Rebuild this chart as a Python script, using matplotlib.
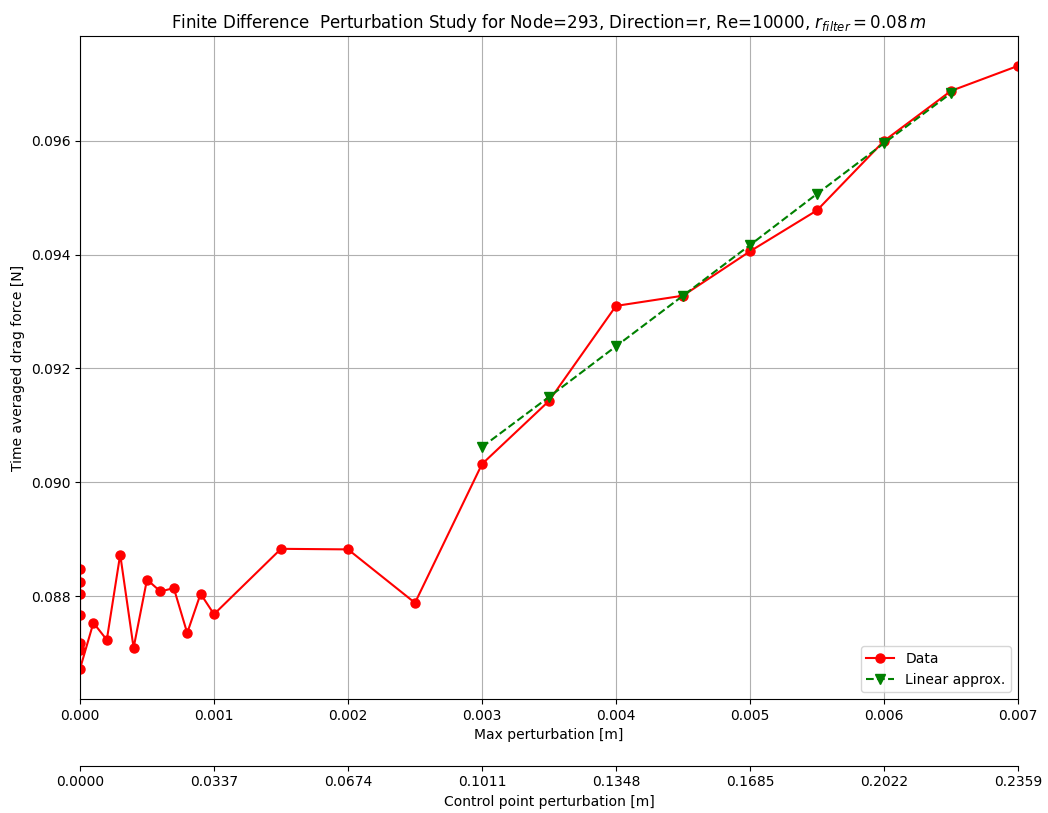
import matplotlib
matplotlib.use("Agg")
import matplotlib.pyplot as plt
import numpy as np

# Data series
max_pert = [1e-9, 2e-9, 5e-9, 1e-8, 2e-8, 5e-8, 1e-7,
            0.0001, 0.0002, 0.0003, 0.0004, 0.0005, 0.0006, 0.0007, 0.0008, 0.0009, 0.0010,
            0.0015, 0.0020, 0.0025, 0.0030, 0.0035, 0.0040, 0.0045, 0.0050, 0.0055,
            0.0060, 0.0065, 0.0070]
drag = [0.08847, 0.08824, 0.08804, 0.08766, 0.08718, 0.08705, 0.08672,
        0.08753, 0.08723, 0.08873, 0.08709, 0.08829, 0.08808, 0.08814, 0.08735, 0.08804, 0.08768,
        0.08883, 0.08882, 0.08788, 0.09032, 0.09143, 0.09310, 0.09328, 0.09406, 0.09478,
        0.09600, 0.09688, 0.09732]

lin_x = [0.0030, 0.0035, 0.0040, 0.0045, 0.0050, 0.0055, 0.0060, 0.0065]
lin_y = [0.09062, 0.09150, 0.09239, 0.09328, 0.09417, 0.09507, 0.09596, 0.09684]

x_ticks = [0.000, 0.001, 0.002, 0.003, 0.004, 0.005, 0.006, 0.007]
y_ticks = [0.088, 0.090, 0.092, 0.094, 0.096]
cp_ticks = [0.0000, 0.0337, 0.0674, 0.1011, 0.1348, 0.1685, 0.2022, 0.2359]
cp_labels = ["0.0000", "0.0337", "0.0674", "0.1011", "0.1348", "0.1685", "0.2022", "0.2359"]

plt.rcParams['font.family'] = ['DejaVu Sans']
plt.rcParams['font.size'] = 10

fig = plt.figure(figsize=(10.48, 8.13), dpi=100)
ax = fig.add_axes([80/1048, 1-699/813, (1018-80)/1048, (699-36)/813])

ax.plot(max_pert, drag, 'o-', color='red', markersize=6.5, label='Data')
ax.plot(lin_x, lin_y, 'v--', color='green', markersize=6.5, label='Linear approx.')

ax.set_xlim(0, 0.007)
ax.set_ylim(0.08619, 0.097845)
ax.set_xticks(x_ticks)
ax.set_xticklabels([f"{t:.3f}" for t in x_ticks])
ax.set_yticks(y_ticks)
ax.set_yticklabels([f"{t:.3f}" for t in y_ticks])
ax.grid(True, color='#b0b0b0', linewidth=0.8)
ax.set_xlabel('Max perturbation [m]')
ax.set_ylabel('Time averaged drag force [N]')
ax.set_title(r'Finite Difference  Perturbation Study for Node=293, Direction=r, Re=10000, $r_{filter} = 0.08\,m$',
             fontsize=12)
ax.legend(loc='lower right')

ax2 = ax.twiny()
ax2.xaxis.set_ticks_position('bottom')
ax2.xaxis.set_label_position('bottom')
ax2.spines['bottom'].set_position(('outward', 48))
for s in ['top', 'left', 'right']:
    ax2.spines[s].set_visible(False)
ax2.set_xlim(cp_ticks[0], cp_ticks[-1])
ax2.set_xticks(cp_ticks)
ax2.set_xticklabels(cp_labels)
ax2.set_xlabel('Control point perturbation [m]')

fig.savefig('out.png', dpi=100)
